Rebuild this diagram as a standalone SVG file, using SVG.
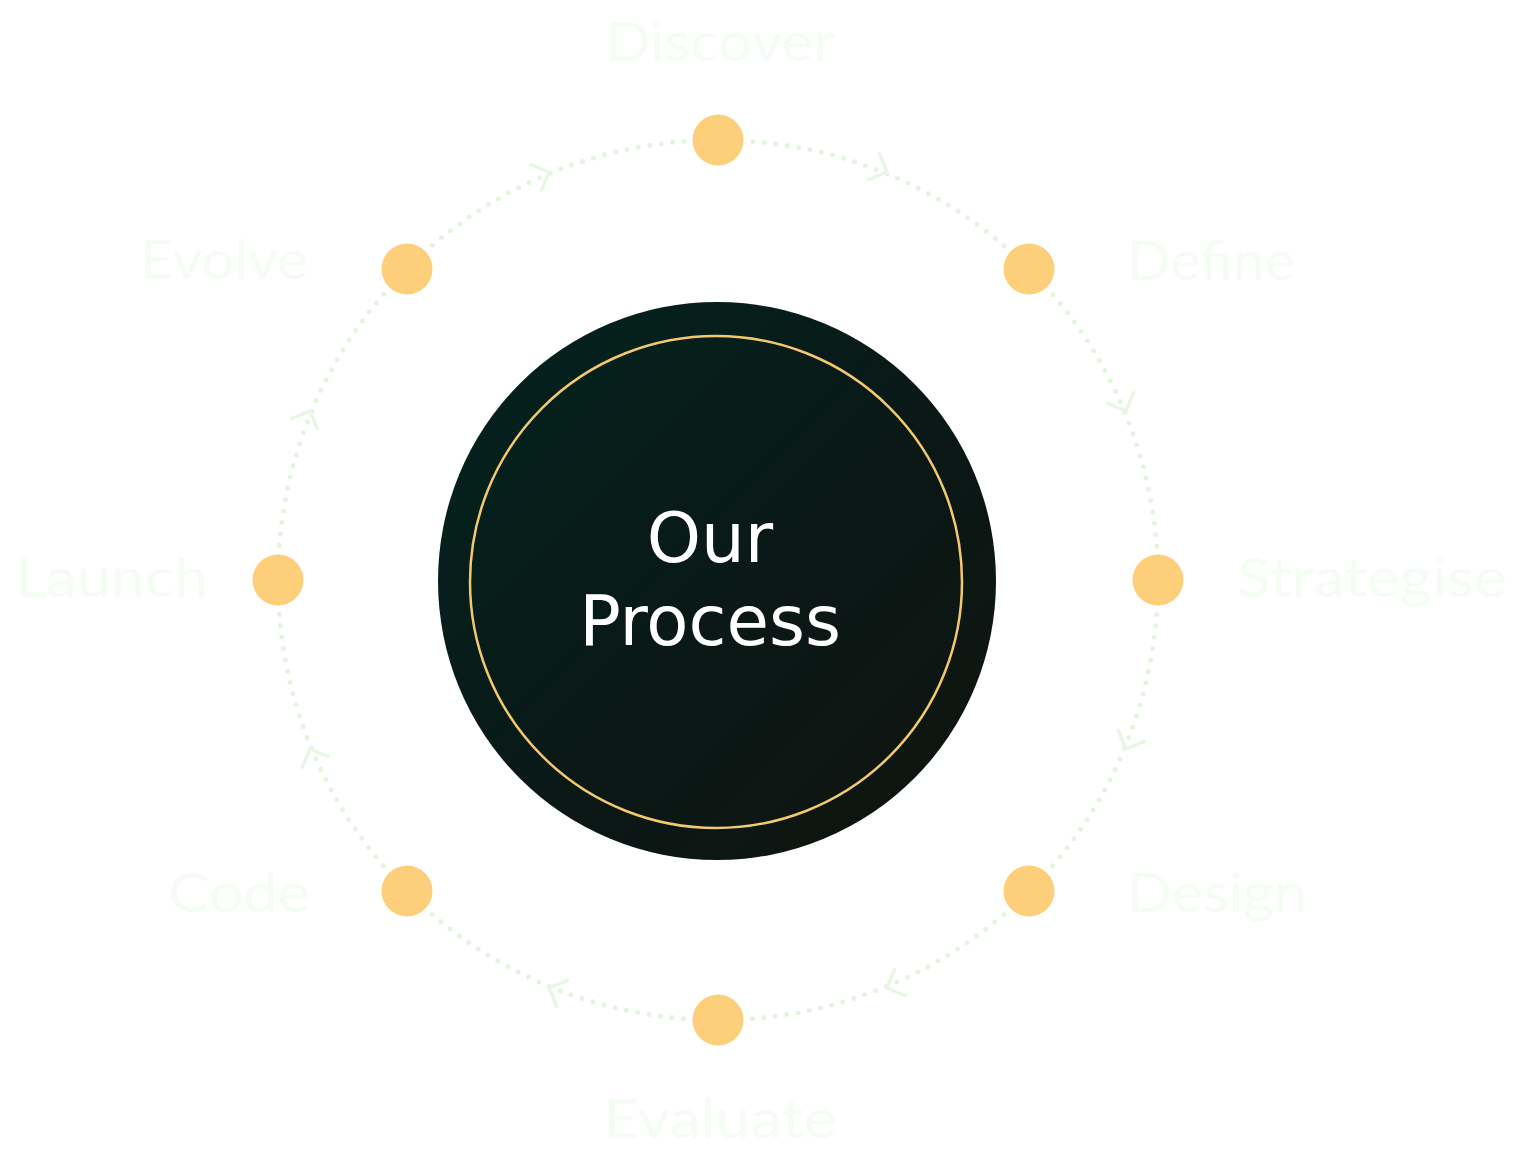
<svg xmlns="http://www.w3.org/2000/svg" width="1515" height="1167" viewBox="0 0 1515 1167">
  <defs>
    <linearGradient id="hub" x1="0" y1="0" x2="1" y2="1">
      <stop offset="0" stop-color="#03241F"/>
      <stop offset="0.55" stop-color="#0A1816"/>
      <stop offset="1" stop-color="#10140E"/>
    </linearGradient>
    <path id="chev" d="M-14,-14 L0,0 L-14,14"/>
  </defs>
  <style>
    .ring{fill:none;stroke:#E3F5DF;stroke-width:5;stroke-linecap:round;stroke-dasharray:0 11.519}
    .chev{fill:none;stroke:#E8F7E4;stroke-width:3.5;stroke-linecap:round;stroke-linejoin:round}
    .dot{fill:#FDCF7A}
    .lbl{font-family:"Lato","Noto Sans","Liberation Sans",sans-serif;font-weight:400;font-size:54px;fill:#F4FCF3}
    .title{font-family:"DejaVu Sans",sans-serif;font-size:69px;fill:#FFFFFF;text-anchor:middle}
  </style>
  <rect width="1515" height="1167" fill="#FFFFFF"/>

  <g id="connectors">
    <circle class="ring" cx="718" cy="580" r="440"/>
    <use href="#chev" class="chev" transform="translate(887,172) rotate(22.5)"/>
    <use href="#chev" class="chev" transform="translate(1126,411) rotate(67.5)"/>
    <use href="#chev" class="chev" transform="translate(1126,749) rotate(112.5)"/>
    <use href="#chev" class="chev" transform="translate(887,988) rotate(157.5)"/>
    <use href="#chev" class="chev" transform="translate(549,988) rotate(202.5)"/>
    <use href="#chev" class="chev" transform="translate(310,749) rotate(247.5)"/>
    <use href="#chev" class="chev" transform="translate(310,411) rotate(292.5)"/>
    <use href="#chev" class="chev" transform="translate(549,172) rotate(337.5)"/>
  </g>

  <g id="hub">
    <circle cx="717" cy="581" r="279" fill="url(#hub)"/>
    <circle cx="716" cy="582" r="246" fill="none" stroke="#F3C96F" stroke-width="2.5"/>
    <text class="title" x="710" y="562">Our</text>
    <text class="title" x="710" y="645">Process</text>
  </g>

  <g id="discover">
    <circle class="dot" cx="718" cy="140" r="25.5"/>
    <text class="lbl" x="605" y="61" textLength="230" lengthAdjust="spacingAndGlyphs">Discover</text>
  </g>
  <g id="define">
    <circle class="dot" cx="1029" cy="269" r="25.5"/>
    <text class="lbl" x="1127" y="280" textLength="168" lengthAdjust="spacingAndGlyphs">Define</text>
  </g>
  <g id="strategise">
    <circle class="dot" cx="1158" cy="580" r="25.5"/>
    <text class="lbl" x="1237" y="597" textLength="270" lengthAdjust="spacingAndGlyphs">Strategise</text>
  </g>
  <g id="design">
    <circle class="dot" cx="1029" cy="891" r="25.5"/>
    <text class="lbl" x="1127" y="912" textLength="180" lengthAdjust="spacingAndGlyphs">Design</text>
  </g>
  <g id="evaluate">
    <circle class="dot" cx="718" cy="1020" r="25.5"/>
    <text class="lbl" x="603" y="1138" textLength="234" lengthAdjust="spacingAndGlyphs">Evaluate</text>
  </g>
  <g id="code">
    <circle class="dot" cx="407" cy="891" r="25.5"/>
    <text class="lbl" x="168" y="912" textLength="142" lengthAdjust="spacingAndGlyphs">Code</text>
  </g>
  <g id="launch">
    <circle class="dot" cx="278" cy="580" r="25.5"/>
    <text class="lbl" x="15" y="597" textLength="193" lengthAdjust="spacingAndGlyphs">Launch</text>
  </g>
  <g id="evolve">
    <circle class="dot" cx="407" cy="269" r="25.5"/>
    <text class="lbl" x="140" y="279" textLength="168" lengthAdjust="spacingAndGlyphs">Evolve</text>
  </g>
</svg>
